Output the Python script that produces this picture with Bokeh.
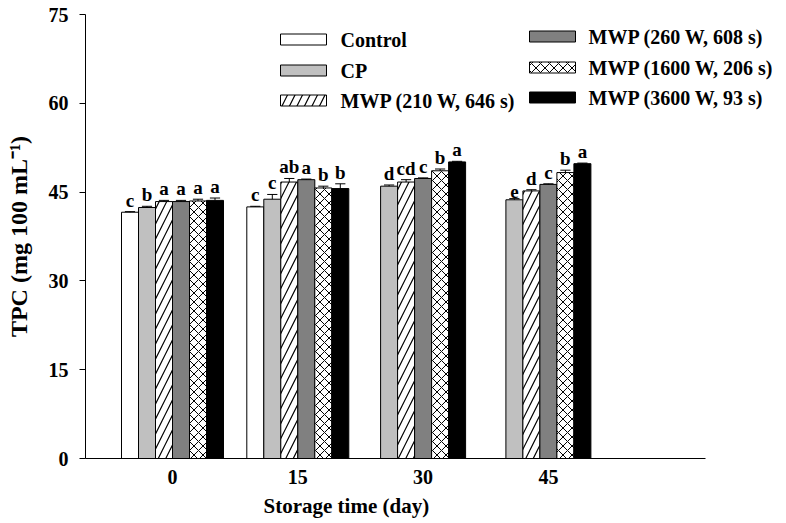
import math
from bokeh.plotting import figure
from bokeh.models import Range1d, FixedTicker, Title
from bokeh.embed import file_html
from bokeh.resources import INLINE
from bokeh.core.properties import value

days = ["0", "15", "30", "45"]
treatments = ["Control", "CP", "MWP (210 W, 646 s)", "MWP (260 W, 608 s)",
              "MWP (1600 W, 206 s)", "MWP (3600 W, 93 s)"]

control = [41.6, 42.5, None, None]
cp = [42.4, 43.8, 46.0, 43.7]
mwp210 = [43.4, 46.7, 46.7, 45.2]
mwp260 = [43.4, 47.1, 47.3, 46.3]
mwp1600 = [43.5, 45.7, 48.6, 48.3]
mwp3600 = [43.6, 45.6, 50.1, 49.8]

err_control = [0.1, 0.1, None, None]
err_cp = [0.2, 0.8, 0.2, 0.2]
err_210 = [0.2, 0.6, 0.4, 0.2]
err_260 = [0.2, 0.1, 0.1, 0.1]
err_1600 = [0.3, 0.3, 0.3, 0.4]
err_3600 = [0.4, 0.8, 0.1, 0.1]

let_control = ["c", "c", None, None]
let_cp = ["b", "c", "d", "e"]
let_210 = ["a", "ab", "cd", "d"]
let_260 = ["a", "a", "c", "c"]
let_1600 = ["a", "b", "b", "b"]
let_3600 = ["a", "b", "a", "a"]

yticks = [0, 15, 30, 45, 60, 75]

series = [control, cp, mwp210, mwp260, mwp1600, mwp3600]
errs = [err_control, err_cp, err_210, err_260, err_1600, err_3600]
letters = [let_control, let_cp, let_210, let_260, let_1600, let_3600]

styles = [
    dict(fill_color="white"),
    dict(fill_color="#c0c0c0"),
    dict(fill_color="white", hatch_pattern="/", hatch_scale=15, hatch_color="black", hatch_weight=1.2),
    dict(fill_color="#808080"),
    dict(fill_color="white", hatch_pattern="x", hatch_scale=9, hatch_color="black", hatch_weight=1),
    dict(fill_color="black"),
]

FONT = "Liberation Serif"
GX = 125.3          # px per group
GX0 = 172           # page x of group 0
YS = (458 - 14) / 75.0  # px per unit

def dx(px):
    return (px - GX0) / GX

def dy(py):
    return (458 - py) / YS

p = figure(width=786, height=523, output_backend="svg", toolbar_location=None,
           x_range=Range1d(dx(85), dx(786)), y_range=Range1d(0, 75),
           min_border_left=85, min_border_right=0, min_border_top=14, min_border_bottom=65)
p.outline_line_color = None
p.grid.grid_line_color = None
p.background_fill_color = "white"
p.border_fill_color = "white"

bw = 17.0 / GX
for g in range(len(days)):
    present = [i for i in range(len(series)) if series[i][g] is not None]
    n = len(present)
    for k, i in enumerate(present):
        xc = g + (k - (n - 1) / 2.0) * bw
        v = series[i][g]
        e = errs[i][g]
        p.vbar(x=[xc], top=[v], bottom=0, width=bw, line_color="black", line_width=1, **styles[i])
        p.segment(x0=[xc], y0=[v], x1=[xc], y1=[v + e], line_color="black", line_width=1)
        p.segment(x0=[xc - bw * 0.3], y0=[v + e], x1=[xc + bw * 0.3], y1=[v + e], line_color="black", line_width=1)
        p.text(x=[xc], y=[v + e], text=[letters[i][g]], text_align="center", text_baseline="bottom",
               y_offset=-1, text_font=value(FONT), text_font_style="bold", text_font_size="19px", text_color="black")

# legend
leg_pos = [(303, 340, 39), (303, 340, 70), (303, 340, 100),
           (552, 588, 36), (552, 588, 67), (552, 588, 97)]
for i, (sx, tx, ty) in enumerate(leg_pos):
    p.rect(x=[dx(sx)], y=[dy(ty)], width=46, height=11, width_units="screen", height_units="screen",
           line_color="black", line_width=1, **styles[i])
    p.text(x=[dx(tx)], y=[dy(ty)], text=[treatments[i]], text_align="left", text_baseline="middle",
           text_font=value(FONT), text_font_style="bold", text_font_size="20px", text_color="black")

# axes
p.xaxis.ticker = FixedTicker(ticks=list(range(len(days))))
p.xaxis.major_label_overrides = {i: d for i, d in enumerate(days)}
p.xaxis.bounds = (dx(85), dx(705))
p.xaxis.major_tick_line_color = None
p.xaxis.minor_tick_line_color = None
p.xaxis.major_label_standoff = 5
p.yaxis.ticker = FixedTicker(ticks=yticks)
p.yaxis.major_tick_in = 0
p.yaxis.major_tick_out = 6
p.yaxis.major_tick_line_color = "black"
p.yaxis.minor_tick_line_color = None
p.yaxis.major_label_standoff = 11
for ax in (p.xaxis, p.yaxis):
    ax.axis_line_color = "black"
    ax.axis_line_width = 1
    ax.major_label_text_font = FONT
    ax.major_label_text_font_style = "bold"
    ax.major_label_text_font_size = "20px"
    ax.major_label_text_color = "black"

p.yaxis.axis_label = "TPC (mg 100 mL\u207b\u00b9)"
p.yaxis.axis_label_text_font = FONT
p.yaxis.axis_label_text_font_style = "bold"
p.yaxis.axis_label_text_font_size = "24px"
p.yaxis.axis_label_text_color = "black"
p.yaxis.axis_label_standoff = 14

p.add_layout(Title(text="Storage time (day)", align="left", offset=263 - 85,
                   text_font=FONT, text_font_style="bold", text_font_size="21px",
                   text_color="black", standoff=10), "below")

open("out.html", "w").write(file_html(p, INLINE))
